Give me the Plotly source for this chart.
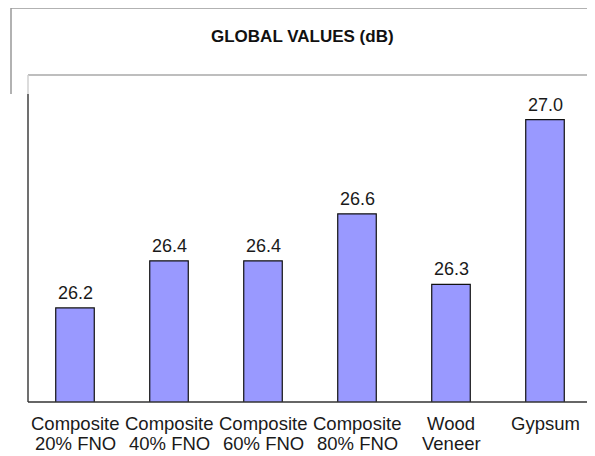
import plotly.graph_objects as go

categories = ["Composite 20% FNO", "Composite 40% FNO", "Composite 60% FNO",
              "Composite 80% FNO", "Wood Veneer", "Gypsum"]
label_line1 = ["Composite", "Composite", "Composite", "Composite", "Wood", "Gypsum"]
label_line2 = ["20% FNO", "40% FNO", "60% FNO", "80% FNO", "Veneer", ""]
values = [26.2, 26.4, 26.4, 26.6, 26.3, 27.0]

# the page places the figure 8px in from the top-left corner of the window
OFF = 8
W, H = 595 - OFF, 456 - OFF
L, R, T, B = 28 - OFF, 3, 75 - OFF, 54
ph = H - T - B
pw = W - L - R

def py(pix):
    return (H - B - (pix - OFF)) / ph

def px(pix):
    return ((pix - OFF) - L) / pw

FONT = "Liberation Sans, Arial, sans-serif"
TXT = "#1a1a1a"

fig = go.Figure()
fig.add_trace(go.Bar(
    x=categories, y=values, width=0.41,
    marker=dict(color="#9999FF", line=dict(color="#111111", width=1.2)),
    hoverinfo="skip",
))

ann = []
for c, v in zip(categories, values):
    ann.append(dict(x=c, y=v, xref="x", yref="y", text=f"{v:.1f}",
                    showarrow=False, yanchor="bottom", yshift=3,
                    font=dict(family=FONT, size=18, color=TXT)))
for c, a, b in zip(categories, label_line1, label_line2):
    ann.append(dict(x=c, y=py(423), xref="x", yref="paper", text=a,
                    showarrow=False, yanchor="middle",
                    font=dict(family=FONT, size=18.5, color=TXT)))
    if b:
        ann.append(dict(x=c, y=py(443), xref="x", yref="paper", text=b,
                        showarrow=False, yanchor="middle",
                        font=dict(family=FONT, size=18.5, color=TXT)))
ann.append(dict(x=px(302), y=py(36), xref="paper", yref="paper",
                text="<b>GLOBAL VALUES (dB)</b>", showarrow=False,
                xanchor="center", yanchor="middle",
                font=dict(family=FONT, size=17, color="#111111")))

light = "#a8a8a8"
dark = "#404040"
split = py(94)
shapes = [
    # outer frame
    dict(type="line", xref="paper", yref="paper", x0=px(11), x1=px(600), y0=py(8), y1=py(8), line=dict(color="#999999", width=1.5)),
    dict(type="line", xref="paper", yref="paper", x0=px(11), x1=px(11), y0=py(8), y1=split, line=dict(color="#999999", width=1.5)),
    # plot frame
    dict(type="line", xref="paper", yref="paper", x0=0, x1=1, y0=1, y1=1, line=dict(color=light, width=1.5)),
    dict(type="line", xref="paper", yref="paper", x0=0, x1=0, y0=split, y1=1, line=dict(color="#d0d0d0", width=1.5)),
    dict(type="line", xref="paper", yref="paper", x0=1, x1=1, y0=split, y1=1, line=dict(color=light, width=1.5)),
    dict(type="line", xref="paper", yref="paper", x0=0, x1=0, y0=0, y1=split, line=dict(color=dark, width=1.5)),
    dict(type="line", xref="paper", yref="paper", x0=1, x1=1, y0=0, y1=split, line=dict(color="#555555", width=2)),
    dict(type="line", xref="paper", yref="paper", x0=0, x1=1, y0=0, y1=0, line=dict(color="#333333", width=1.5)),
]

fig.update_layout(
    width=W, height=H,
    margin=dict(l=L, r=R, t=T, b=B, pad=0),
    paper_bgcolor="white", plot_bgcolor="white",
    showlegend=False,
    xaxis=dict(showticklabels=False, showgrid=False, zeroline=False, showline=False,
               ticks="", range=[-0.5, 5.5]),
    yaxis=dict(range=[25.8, 27.19], visible=False, showgrid=False, zeroline=False),
    annotations=ann, shapes=shapes,
    bargap=0.59,
)

fig.write_html("out.html")
